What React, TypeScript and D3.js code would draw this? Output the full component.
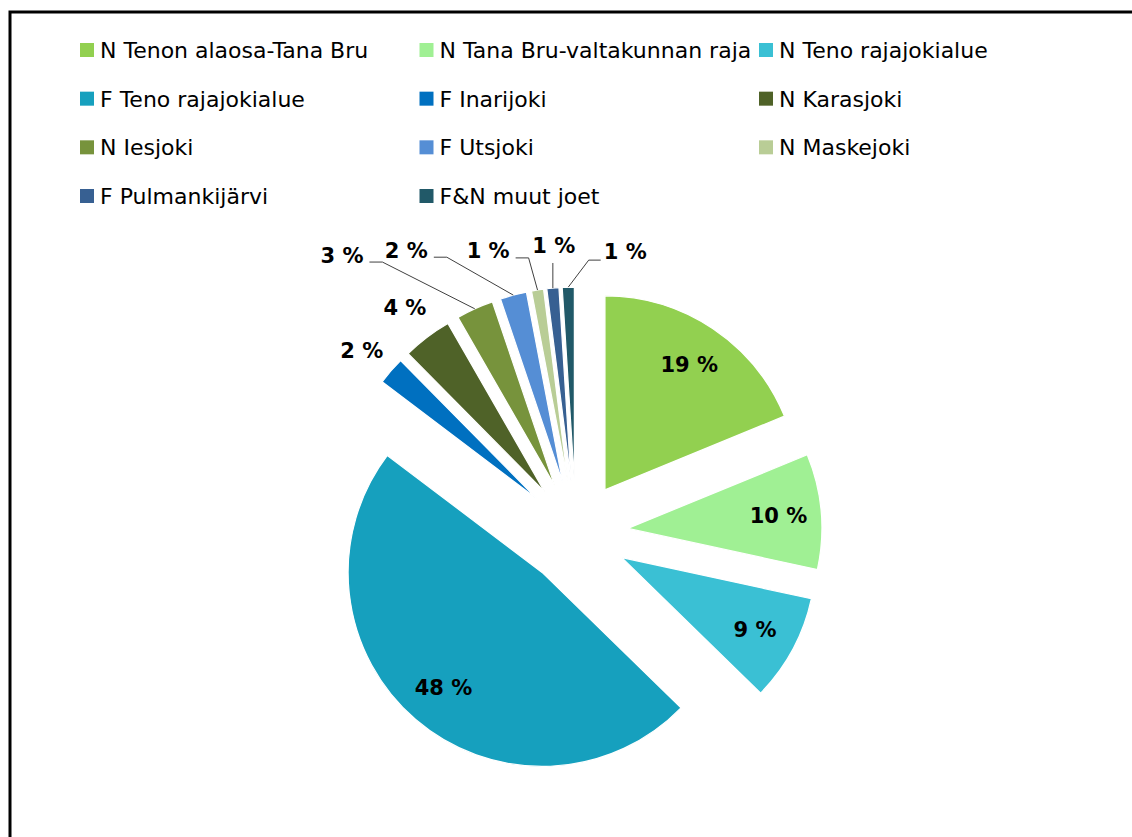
import React from 'react';
import * as d3 from 'd3';

// river sections, share of catch (%)
const categories = [
  'N Tenon alaosa-Tana Bru',
  'N Tana Bru-valtakunnan raja',
  'N Teno rajajokialue',
  'F Teno rajajokialue',
  'F Inarijoki',
  'N Karasjoki',
  'N Iesjoki',
  'F Utsjoki',
  'N Maskejoki',
  'F Pulmankijärvi',
  'F&N muut joet',
];
// labels show them rounded
const shares = [18.8, 9.6, 8.9, 48.0, 2.3, 4.1, 3.1, 2.2, 1.0, 1.0, 1.0];
const colors = [
  '#92D050', '#A0F094', '#3AC0D4', '#16A0BE', '#0070C0', '#4F6228',
  '#77933C', '#558ED5', '#B9CD96', '#376092', '#215968',
];

// where the small-slice labels were dragged to: angle nudge (deg), distance (x radius), leader line
const outsideLabels: ({ turn: number; dist: number; leader: boolean } | null)[] = [
  null, null, null, null,
  { turn: -0.8, dist: 1.45, leader: false },
  { turn: 0.1, dist: 1.46, leader: false },
  { turn: -15.8, dist: 1.873, leader: true },
  { turn: -16.2, dist: 1.70, leader: true },
  { turn: -8.3, dist: 1.523, leader: true },
  { turn: 1.0, dist: 1.489, leader: true },
  { turn: 11.7, dist: 1.475, leader: true },
];

const W = 1132;
const H = 837;
const cx = 576;
const cy = 533;
const radius = 194;
const explode = 52;
const labelFont = 21;

export default function App() {
  const pie = d3.pie<number>().sort(null).value((d) => d);
  const arcs = pie(shares);
  const arc = d3.arc<d3.PieArcDatum<number>>().innerRadius(0).outerRadius(radius);

  const col = d3.scalePoint<number>().domain([0, 1, 2]).range([80, 759]);
  const row = d3.scaleLinear().domain([0, 3]).range([50, 196]);

  const fmt = (v: number) => `${Math.round(v)} %`;
  const textWidth = (s: string) => {
    const digits = s.replace(/[^0-9]/g, '').length;
    return (digits * 0.696 + 1.35) * labelFont;
  };

  return (
    <svg
      width={W}
      height={H}
      style={{ position: 'absolute', left: 0, top: 0, background: '#fff' }}
      fontFamily="'DejaVu Sans', sans-serif"
    >
      <rect x={0} y={0} width={W} height={H} fill="#fff" />
      <rect x={10} y={12} width={1300} height={1000} fill="none" stroke="#000" strokeWidth={3} />

      {/* legend */}
      <g>
        {categories.map((c, i) => {
          const x = col(i % 3) as number;
          const y = row(Math.floor(i / 3));
          return (
            <g key={c} transform={`translate(${x},${y})`}>
              <rect x={0} y={-7} width={14} height={14} fill={colors[i]} />
              <text x={20} y={0} dy="0.36em" fontSize={22} fill="#000">
                {c}
              </text>
            </g>
          );
        })}
      </g>

      {/* slices */}
      <g>
        {arcs.map((a, i) => {
          const mid = (a.startAngle + a.endAngle) / 2;
          const ox = Math.sin(mid) * explode;
          const oy = -Math.cos(mid) * explode;
          return (
            <path
              key={i}
              d={arc(a) as string}
              transform={`translate(${cx + ox},${cy + oy})`}
              fill={colors[i]}
              stroke="#fff"
              strokeWidth={1.2}
            />
          );
        })}
      </g>

      {/* data labels */}
      <g fontWeight="bold" fontSize={labelFont} fill="#000">
        {arcs.map((a, i) => {
          const mid = (a.startAngle + a.endAngle) / 2;
          const ax = cx + Math.sin(mid) * explode;
          const ay = cy - Math.cos(mid) * explode;
          const txt = fmt(shares[i]);
          const o = outsideLabels[i];
          if (!o) {
            const lx = ax + Math.sin(mid) * radius * 0.78;
            const ly = ay - Math.cos(mid) * radius * 0.78;
            return (
              <text key={i} x={lx} y={ly} textAnchor="middle" dy="0.36em">
                {txt}
              </text>
            );
          }
          const ang = mid + (o.turn * Math.PI) / 180;
          const lx = cx + Math.sin(ang) * radius * o.dist;
          const ly = cy - Math.cos(ang) * radius * o.dist;
          const px = ax + Math.sin(mid) * radius;
          const py = ay - Math.cos(mid) * radius;
          const half = textWidth(txt) / 2;
          let pts: [number, number][] = [];
          if (o.leader) {
            if (Math.abs(lx - px) < 12) {
              pts = [[px, ly + 18], [px, py]];
            } else if (lx < px) {
              pts = [[lx + half + 6, ly + 7], [lx + half + 19, ly + 7], [px, py]];
            } else {
              pts = [[lx - half - 3, ly + 9], [lx - half - 15, ly + 9], [px, py]];
            }
          }
          return (
            <g key={i}>
              {pts.length > 0 && (
                <path
                  d={d3.line()(pts) as string}
                  fill="none"
                  stroke="#404040"
                  strokeWidth={1}
                />
              )}
              <text x={lx} y={ly} textAnchor="middle" dy="0.36em">
                {txt}
              </text>
            </g>
          );
        })}
      </g>
    </svg>
  );
}
